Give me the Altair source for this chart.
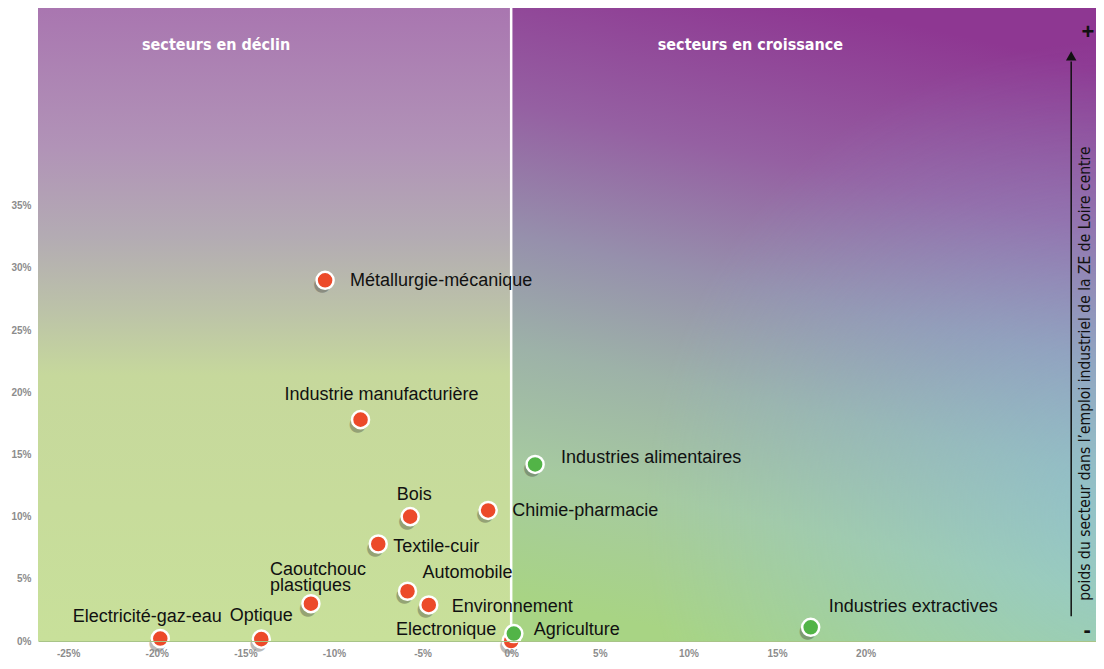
import altair as alt
import pandas as pd

# ---- data ----
sectors = ["Métallurgie-mécanique", "Industrie manufacturière", "Industries alimentaires",
           "Bois", "Chimie-pharmacie", "Textile-cuir", "Automobile", "Environnement",
           "Caoutchouc\nplastiques", "Electricité-gaz-eau", "Optique", "Electronique",
           "Agriculture", "Industries extractives"]
growth = [-10.5, -8.5, 1.35, -5.7, -1.3, -7.5, -5.85, -4.65, -11.3, -19.8, -14.1, 0.0, 0.15, 16.9]
weight = [29.0, 17.8, 14.2, 10.0, 10.5, 7.8, 4.0, 2.9, 3.0, 0.2, 0.15, 0.0, 0.6, 1.1]
trend = ["déclin", "déclin", "croissance", "déclin", "déclin", "déclin", "déclin", "déclin",
         "déclin", "déclin", "déclin", "déclin", "croissance", "croissance"]

# label placement (pixel offsets from the point) and alignment
label_dx = [25, 21, 26, 4, 24, 15, 15, 23, -41, -13, 0, -15, 20, 18]
label_dy = [1, -25, -6, -22, 1, 3, -18, 2, -34, -22, -23, -11, -4, -20]
label_align = ["left", "center", "left", "center", "left", "left", "left", "left",
               "left", "center", "center", "right", "left", "left"]

x_ticks = [-25, -20, -15, -10, -5, 0, 5, 10, 15, 20]
y_ticks = [0, 5, 10, 15, 20, 25, 30, 35]
x_domain = [-26.7, 33.0]
y_domain = [0, 50.9]

df = pd.DataFrame({"sector": sectors, "growth": growth, "weight": weight, "trend": trend})

xs = alt.Scale(domain=x_domain, nice=False, zero=False)
ys = alt.Scale(domain=y_domain, nice=False, zero=False)

FONT = "Liberation Sans, Arial, sans-serif"
NARROW = "Liberation Sans Narrow, DejaVu Sans Condensed, Arial Narrow, sans-serif"

x_axis = alt.Axis(values=x_ticks, labelExpr="datum.value + '%'", grid=False, ticks=False,
                  domain=True, domainColor="#A8C488", labelPadding=7, zindex=1,
                  labelFontSize=10, labelFontWeight="bold", labelColor="#8C8C8C",
                  labelFont=FONT)
y_axis = alt.Axis(values=y_ticks, labelExpr="datum.value + '%'", grid=False, ticks=False,
                  domain=False, labelPadding=7,
                  labelFontSize=10, labelFontWeight="bold", labelColor="#8C8C8C",
                  labelFont=FONT)


def X(field):
    return alt.X(field, scale=xs, axis=x_axis, title=None)


def Y(field):
    return alt.Y(field, scale=ys, axis=y_axis, title=None)


# ---- background ----
left_grad = alt.Gradient(
    gradient="linear", x1=0, y1=0, x2=0, y2=1,
    stops=[alt.GradientStop(offset=0, color="#A976B0"),
           alt.GradientStop(offset=0.22, color="#B193B7"),
           alt.GradientStop(offset=0.36, color="#B3ABB3"),
           alt.GradientStop(offset=0.48, color="#BCC3A8"),
           alt.GradientStop(offset=0.58, color="#C6D89C"),
           alt.GradientStop(offset=1, color="#C8E09A")])
right_grad = alt.Gradient(
    gradient="linear", x1=0.55, y1=0, x2=0.35, y2=1,
    stops=[alt.GradientStop(offset=0, color="#8E3792"),
           alt.GradientStop(offset=0.25, color="#9560A2"),
           alt.GradientStop(offset=0.45, color="#9690AC"),
           alt.GradientStop(offset=0.62, color="#9DB2A8"),
           alt.GradientStop(offset=0.8, color="#A6CAA0"),
           alt.GradientStop(offset=1, color="#A8D484")])
right_glow = alt.Gradient(
    gradient="radial", x1=1, y1=0.8, r1=0, x2=1, y2=0.8, r2=0.75,
    stops=[alt.GradientStop(offset=0, color="rgba(135,205,235,0.5)"),
           alt.GradientStop(offset=1, color="rgba(135,205,235,0)")])

left_df = pd.DataFrame({"x0": [x_domain[0]], "x1": [0], "y0": [y_domain[0]], "y1": [y_domain[1]]})
right_df = pd.DataFrame({"x0": [0], "x1": [x_domain[1]], "y0": [y_domain[0]], "y1": [y_domain[1]]})


def bg_rect(d, fill):
    return alt.Chart(d).mark_rect(fill=fill).encode(
        x=X("x0:Q"), x2="x1:Q", y=Y("y0:Q"), y2="y1:Q")


left_bg = bg_rect(left_df, left_grad)
right_bg = bg_rect(right_df, right_grad)
right_glow_l = bg_rect(right_df, right_glow)

zero_line = alt.Chart(pd.DataFrame({"x": [0], "y0": [y_domain[0]], "y1": [y_domain[1]]})).mark_rule(
    color="white", strokeWidth=2.5).encode(x=X("x:Q"), y=Y("y0:Q"), y2="y1:Q")

# ---- points ----
shadow = alt.Chart(df).mark_text(text="\u25CF", font="DejaVu Sans", fontSize=21,
                                 color="#202020", opacity=0.3, dx=-3, dy=4,
                                 baseline="middle", align="center").encode(
    x=X("growth:Q"), y=Y("weight:Q"))

points = alt.Chart(df).mark_circle(size=290, opacity=1, stroke="white", strokeWidth=2.5).encode(
    x=X("growth:Q"), y=Y("weight:Q"),
    color=alt.Color("trend:N", scale=alt.Scale(domain=["déclin", "croissance"],
                                                 range=["#EC4A2A", "#52B447"]), legend=None))

label_layers = []
for i in range(len(sectors)):
    label_layers.append(
        alt.Chart(df.iloc[[i]]).mark_text(
            align=label_align[i], baseline="middle", font=FONT, fontSize=18,
            color="#111111", lineBreak="\n", lineHeight=16,
            dx=label_dx[i], dy=label_dy[i]).encode(
            x=X("growth:Q"), y=Y("weight:Q"), text="sector:N"))

# ---- annotations ----
heads = pd.DataFrame({"x": [-16.65, 13.5], "y": [47.9, 47.9],
                      "t": ["secteurs en déclin", "secteurs en croissance"]})
head_text = alt.Chart(heads).mark_text(font=NARROW, fontSize=16, fontWeight="bold",
                                       color="white", baseline="middle").encode(
    x=X("x:Q"), y=Y("y:Q"), text="t:N")

side = pd.DataFrame({"x": [32.4], "y": [21.5],
                     "t": ["poids du secteur dans l\u2019emploi industriel de la ZE de Loire centre"]})
side_text = alt.Chart(side).mark_text(font=NARROW, fontSize=15.5, color="#111111", angle=270,
                                      baseline="middle", align="center").encode(
    x=X("x:Q"), y=Y("y:Q"), text="t:N")

arrow_df = pd.DataFrame({"x": [31.6], "y0": [2.0], "y1": [46.6]})
arrow_line = alt.Chart(arrow_df).mark_rule(color="#111111", strokeWidth=1.5).encode(
    x=X("x:Q"), y=Y("y0:Q"), y2="y1:Q")
arrow_head = alt.Chart(pd.DataFrame({"x": [31.6], "y": [47.05]})).mark_point(
    shape="triangle-up", filled=True, color="#111111", size=110, opacity=1).encode(
    x=X("x:Q"), y=Y("y:Q"))

signs = pd.DataFrame({"x": [32.55, 32.5], "y": [49.0, 0.9], "t": ["+", "-"]})
sign_text = alt.Chart(signs).mark_text(font=FONT, fontSize=22, fontWeight="bold",
                                       color="#111111", baseline="middle").encode(
    x=X("x:Q"), y=Y("y:Q"), text="t:N")

chart = alt.layer(
    left_bg, right_bg, right_glow_l, zero_line, head_text, side_text,
    arrow_line, arrow_head, sign_text, shadow, points, *label_layers
).properties(
    width=1058, height=633,
    padding={"left": 30, "top": 0, "right": 0, "bottom": 20},
    autosize=alt.AutoSizeParams(type="none"),
    background="white"
).configure_view(stroke=None)

chart.save("out.html", embed_options={"renderer": "svg", "actions": False})
